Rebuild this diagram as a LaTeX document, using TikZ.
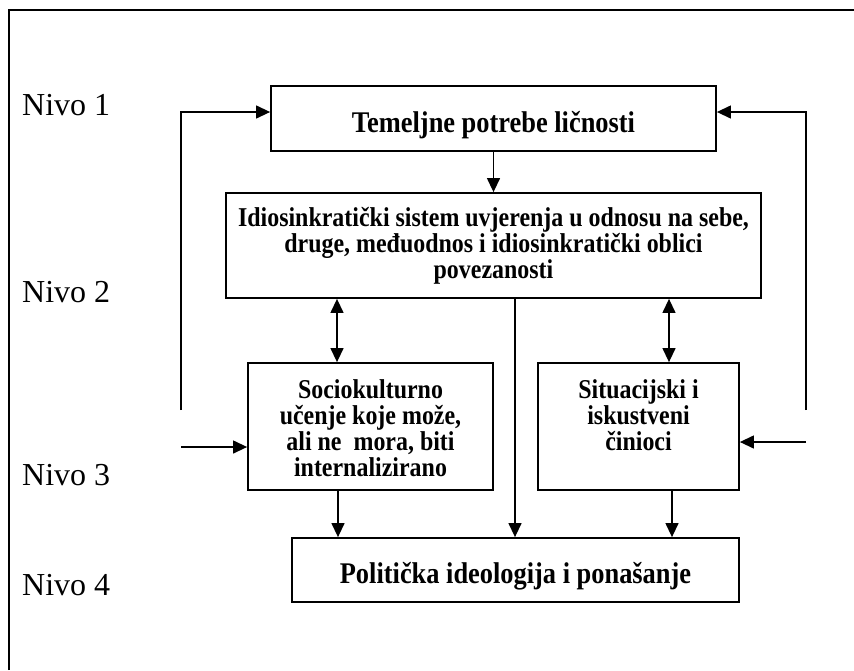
\documentclass[tikz,border=0pt]{standalone}
\usepackage{fontspec}
\setmainfont{Liberation Serif}
\newfontfamily\condfont[FakeStretch=0.88]{Liberation Serif}
\usetikzlibrary{arrows.meta}
\begin{document}
\begin{tikzpicture}[x=1pt,y=-1pt,
  boxnode/.style={draw, line width=1.8pt, inner sep=0pt},
  bigtxt/.style={font=\condfont\bfseries\fontsize{30}{33}\selectfont, inner sep=0pt, align=center},
  smalltxt/.style={font=\condfont\bfseries\fontsize{27.2}{26}\selectfont, inner sep=0pt, align=center},
  levtxt/.style={font=\fontsize{32}{36}\selectfont, inner sep=0pt, anchor=base west},
  conn/.style={line width=1.3pt, -{Triangle[length=14pt,width=13pt]}},
  dconn/.style={line width=1.3pt, {Triangle[length=14pt,width=13pt]}-{Triangle[length=14pt,width=13pt]}}
]
\useasboundingbox (0,0) rectangle (854,670);
% frame (top and left sides only visible)
\draw[line width=2.5pt] (9,670) -- (9,10) -- (854,10);

% boxes
\node[boxnode, minimum width=445pt, minimum height=65pt] (b1) at (493.5,118.5) {};
\node[boxnode, minimum width=535pt, minimum height=105pt] (b2) at (493.5,245.5) {};
\node[boxnode, minimum width=245pt, minimum height=127pt] (b3) at (370.5,426.5) {};
\node[boxnode, minimum width=201pt, minimum height=127pt] (b4) at (638.5,426.5) {};
\node[boxnode, minimum width=447pt, minimum height=64pt] (b5) at (515.5,570) {};

% texts
\node[bigtxt, anchor=base] (t1) at (493.5,132) {Temeljne potrebe ličnosti};
\node[smalltxt] (t2) at (493.5,246) {Idiosinkratički sistem uvjerenja u odnosu na sebe,\\ druge, međuodnos i idiosinkratički oblici\\ povezanosti};
\node[smalltxt] (t3) at (370.5,428) {Sociokulturno\\ učenje koje može,\\ ali ne~ mora, biti\\ internalizirano};
\node[smalltxt] (t4) at (638.5,415) {Situacijski i\\ iskustveni\\ činioci};
\node[bigtxt, anchor=base] (t5) at (515.5,583) {Politička ideologija i ponašanje};

% level labels
\node[levtxt] (n1) at (22,115) {Nivo 1};
\node[levtxt] (n2) at (22,302) {Nivo 2};
\node[levtxt] (n3) at (22,485) {Nivo 3};
\node[levtxt] (n4) at (22,595) {Nivo 4};

% helper coordinates
\coordinate (fy) at (0,112);
\coordinate (dl) at (337,0);
\coordinate (dr) at (669,0);
\coordinate (cm) at (515,0);
\coordinate (c3) at (338,0);
\coordinate (c4) at (672,0);
\coordinate (lf) at (181,410);
\coordinate (rf) at (806,410);
\coordinate (li) at (181,447);
\coordinate (ri) at (806,442);

% connectors
\draw[conn] (b1.south) -- (b2.north);
\draw[dconn] (b2.south -| dl) -- (b3.north -| dl);
\draw[dconn] (b2.south -| dr) -- (b4.north -| dr);
\draw[conn] (b2.south -| cm) -- (b5.north -| cm);
\draw[conn] (b3.south -| c3) -- (b5.north -| c3);
\draw[conn] (b4.south -| c4) -- (b5.north -| c4);
\draw[conn] (lf) |- (b1.west |- fy);
\draw[conn] (rf) |- (b1.east |- fy);
\draw[conn] (li) -- (b3.west |- li);
\draw[conn] (ri) -- (b4.east |- ri);
\end{tikzpicture}
\end{document}
